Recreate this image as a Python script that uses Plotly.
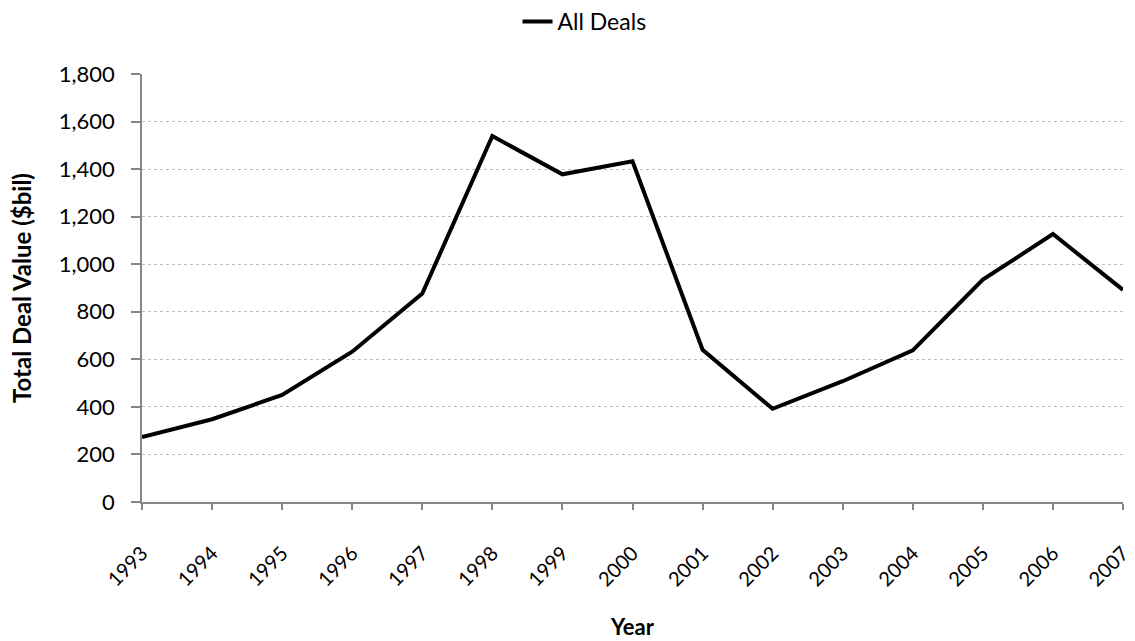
import plotly.graph_objects as go

years = [str(y) for y in range(1993, 2008)]
all_deals = [273, 348, 450, 632, 877, 1539, 1378, 1433, 640, 392, 508, 638, 935, 1127, 892]
y_ticks = [0, 200, 400, 600, 800, 1000, 1200, 1400, 1600, 1800]
y_tick_labels = ["0", "200", "400", "600", "800", "1,000", "1,200", "1,400", "1,600", "1,800"]

font_family = "Lato, Carlito, Calibri, sans-serif"

fig = go.Figure()
fig.add_trace(go.Scatter(
    x=list(range(len(years))), y=all_deals, mode="lines", name="All Deals",
    line=dict(color="black", width=4),
))

fig.update_layout(
    width=1135, height=641,
    margin=dict(l=142, r=12, t=74, b=139),
    plot_bgcolor="white", paper_bgcolor="white",
    font=dict(family=font_family, size=22, color="black"),
    showlegend=True,
    legend=dict(orientation="h", x=0.515, xanchor="center", y=1.0, yanchor="top",
                xref="container", yref="container", font=dict(size=23)),
    xaxis=dict(
        range=[0, len(years) - 1], automargin=False,
        tickmode="array", tickvals=list(range(len(years))), ticktext=years,
        tickangle=-45, ticks="outside", ticklen=6, tickcolor="#868686", tickwidth=1.5,
        tickfont=dict(size=20),
        ticklabeloverflow="allow", ticklabelstandoff=24,
        showline=True, linecolor="#868686", linewidth=1.5,
        showgrid=False, zeroline=False,
        title=dict(text="<b>Year</b>", font=dict(size=22), standoff=30),
    ),
    yaxis=dict(
        range=[0, 1800], automargin=False,
        tickmode="array", tickvals=y_ticks, ticktext=y_tick_labels,
        ticks="outside", ticklen=9, tickcolor="#868686", tickwidth=1.5,
        ticklabelstandoff=12,
        showline=True, linecolor="#868686", linewidth=1.5,
        showgrid=True, gridcolor="#bfbfbf", griddash="dot", gridwidth=1,
        zeroline=False,
        title=dict(text="<b>Total Deal Value ($bil)</b>", font=dict(size=24), standoff=20),
    ),
)

fig.write_html("out.html")
